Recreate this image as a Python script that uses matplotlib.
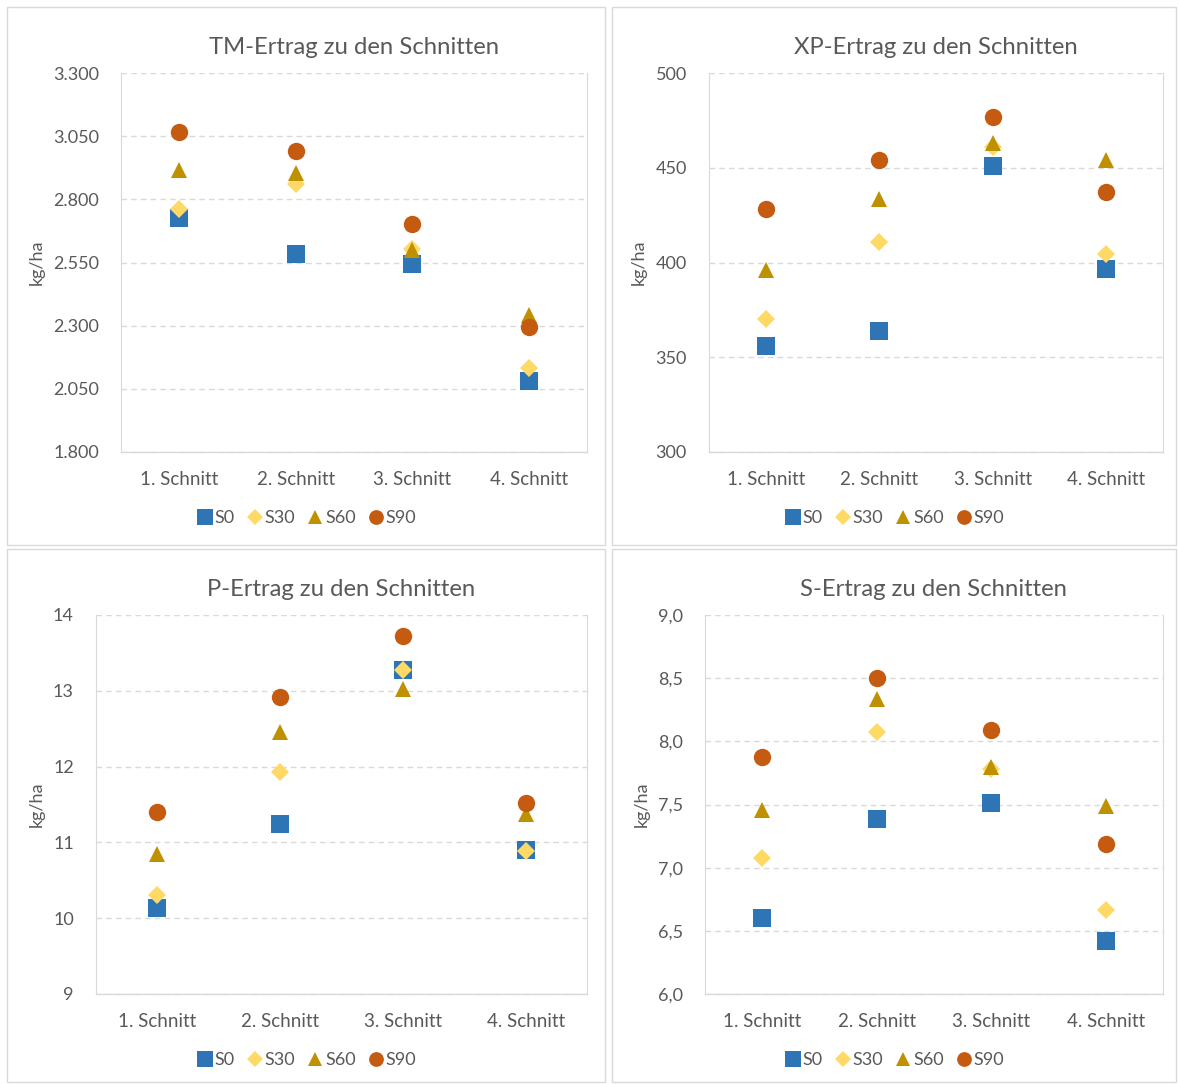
import matplotlib
matplotlib.use("Agg")
from matplotlib import pyplot as plt
from matplotlib.patches import Rectangle
from matplotlib.ticker import FuncFormatter

plt.rcParams['font.family'] = ['Lato', 'DejaVu Sans']

# Data
schnitte = ['1. Schnitt', '2. Schnitt', '3. Schnitt', '4. Schnitt']
series_names = ['S0', 'S30', 'S60', 'S90']

tm_s0 = [2726, 2584, 2544, 2081]
tm_s30 = [2762, 2861, 2604, 2132]
tm_s60 = [2916, 2904, 2600, 2342]
tm_s90 = [3066, 2991, 2702, 2295]

xp_s0 = [356, 364, 451, 396.5]
xp_s30 = [370, 411, 461, 404.5]
xp_s60 = [396, 433.5, 463, 454]
xp_s90 = [428, 454, 477, 437]

p_s0 = [10.13, 11.24, 13.27, 10.90]
p_s30 = [10.31, 11.93, 13.28, 10.89]
p_s60 = [10.85, 12.46, 13.02, 11.37]
p_s90 = [11.40, 12.92, 13.72, 11.52]

s_s0 = [6.60, 7.385, 7.512, 6.42]
s_s30 = [7.077, 8.074, 7.78, 6.665]
s_s60 = [7.457, 8.335, 7.797, 7.488]
s_s90 = [7.876, 8.50, 8.09, 7.187]

W, H = 1179, 1084
colors = ['#2E75B6', '#FFD966', '#BF9000', '#C55A11']
markers = ['s', 'D', '^', 'o']
msizes = [13, 9, 12, 12.5]
text_col = '#595959'
grid_col = '#D9D9D9'


def fmt_de(decimals, thousands=False):
    def f(v, pos):
        if thousands:
            return f"{v:,.0f}".replace(',', '.')
        return f"{v:.{decimals}f}".replace('.', ',')
    return FuncFormatter(f)


def add_panel(fig, frame, plot_px, legend_y, title, data, ylim, step, formatter):
    # chart area frame (pixel coords)
    fx0, fy0, fx1, fy1 = frame
    fig.patches.append(Rectangle((fx0 / W, 1 - fy1 / H), (fx1 - fx0) / W, (fy1 - fy0) / H,
                                 transform=fig.transFigure, fill=False,
                                 edgecolor=grid_col, lw=1.0))
    x0, y0, x1, y1 = plot_px
    ax = fig.add_axes([x0 / W, 1 - y1 / H, (x1 - x0) / W, (y1 - y0) / H])
    xs = list(range(len(schnitte)))
    for vals, name, c, m, ms in zip(data, series_names, colors, markers, msizes):
        ax.plot(xs, vals, linestyle='none', marker=m, markersize=ms, color=c,
                markeredgewidth=0, label=name)
    ax.set_xlim(-0.5, len(schnitte) - 0.5)
    ax.set_ylim(*ylim)
    ticks = []
    t = ylim[0]
    while t <= ylim[1] + 1e-9:
        ticks.append(t)
        t += step
    ax.set_yticks(ticks)
    ax.yaxis.set_major_formatter(formatter)
    ax.set_xticks(xs)
    ax.set_xticklabels(schnitte)
    ax.tick_params(axis='both', length=0, labelsize=13, labelcolor=text_col)
    ax.tick_params(axis='x', labelsize=13.5, pad=14)
    ax.tick_params(axis='y', pad=16)
    ax.grid(axis='y', color=grid_col, linestyle=(0, (4, 3)), lw=1.0)
    ax.set_axisbelow(True)
    for side in ['left', 'right', 'top']:
        ax.spines[side].set_color(grid_col)
        ax.spines[side].set_linewidth(0.8)
    ax.spines['top'].set_visible(False)
    ax.spines['bottom'].set_color(grid_col)
    ax.spines['bottom'].set_linewidth(1.0)
    ax.set_ylabel('kg/ha', fontsize=13, color=text_col, labelpad=6)
    ax.set_title(title, fontsize=17.2, color=text_col, pad=14)
    leg = ax.legend(loc='center', bbox_to_anchor=((fx0 + fx1) / 2 / W, 1 - legend_y / H),
                    bbox_transform=fig.transFigure, ncol=4,
                    frameon=False, fontsize=13, handletextpad=0.05,
                    columnspacing=0.6, handlelength=1.0, markerscale=0.85)
    for txt in leg.get_texts():
        txt.set_color(text_col)
    return ax


fig = plt.figure(figsize=(W / 100, H / 100), dpi=100)

add_panel(fig, (7, 7, 605, 545), (121, 73, 587, 452), 518, 'TM-Ertrag zu den Schnitten',
          [tm_s0, tm_s30, tm_s60, tm_s90], (1800, 3300), 250, fmt_de(0, thousands=True))
add_panel(fig, (612, 7, 1176, 545), (709, 73, 1163, 452), 518, 'XP-Ertrag zu den Schnitten',
          [xp_s0, xp_s30, xp_s60, xp_s90], (300, 500), 50, fmt_de(0, thousands=True))
add_panel(fig, (7, 549, 605, 1082), (96, 615, 587, 994), 1060, 'P-Ertrag zu den Schnitten',
          [p_s0, p_s30, p_s60, p_s90], (9, 14), 1, fmt_de(0, thousands=True))
add_panel(fig, (612, 549, 1176, 1082), (705, 615, 1163, 994), 1060, 'S-Ertrag zu den Schnitten',
          [s_s0, s_s30, s_s60, s_s90], (6.0, 9.0), 0.5, fmt_de(1))

fig.savefig('out.png', dpi=100, facecolor='white')
plt.close(fig)
